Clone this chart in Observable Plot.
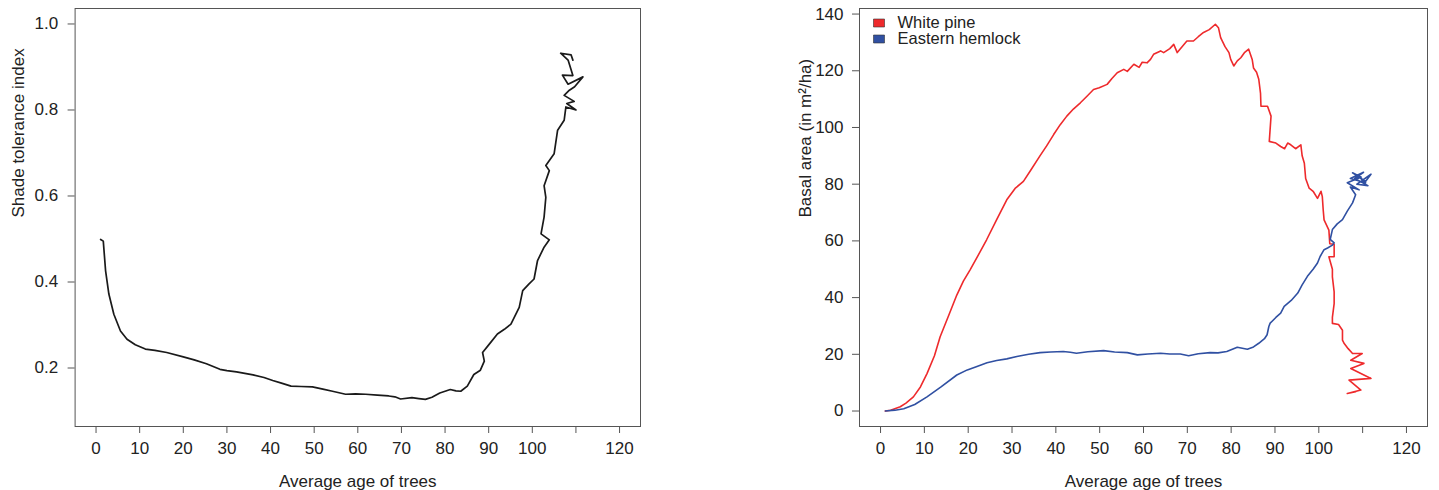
<!DOCTYPE html>
<html>
<head>
<meta charset="utf-8">
<script src="https://cdn.jsdelivr.net/npm/d3@7"></script>
<script src="https://cdn.jsdelivr.net/npm/@observablehq/plot@0.6"></script>
<style>
  html, body { margin: 0; padding: 0; background: #fff; }
  #wrap { display: flex; width: 1439px; height: 490px; }
  svg { display: block; }
</style>
</head>
<body>
<div id="wrap"></div>
<script>
// ---------- data ----------
const xTicks = [0, 10, 20, 30, 40, 50, 60, 70, 80, 90, 100, 110, 120];
const xTickLabels = ["0", "10", "20", "30", "40", "50", "60", "70", "80", "90", "100", "", "120"];
const shadeTicks = [0.2, 0.4, 0.6, 0.8, 1.0];
const basalTicks = [0, 20, 40, 60, 80, 100, 120, 140];

const xTitle = "Average age of trees";
const shadeTitle = "Shade tolerance index";
const basalTitle = "Basal area (in m²/ha)";

// Left panel: shade tolerance index vs average age
const shadeAge = [1.05,1.66,2.19,2.94,4.08,5.6,7.1,9.0,11.3,13.5,16.2,20.0,22.5,25.3,28.4,30,32.2,36.0,38.5,40.5,42.5,44.7,47,49.6,52,54.2,57.2,59.5,61.8,64.5,67.1,68.5,69.8,72.4,74,75.5,77,78.8,81.2,82.5,83.6,85.1,86.6,88.1,89,88.6,90.1,92,93.6,95.1,97,97.8,99.2,100.4,101.2,102.7,103.9,102,102.7,103.1,102.7,103.9,103.1,105,105.8,107.3,107.7,110,107.9,109.6,107.3,108.5,109.7,111.6,108.2,106.9,109.3,108.2,106.5,108.9,109.3];
const shadeIndex = [0.499,0.495,0.426,0.372,0.325,0.286,0.267,0.254,0.244,0.241,0.236,0.226,0.219,0.210,0.197,0.194,0.191,0.184,0.178,0.171,0.165,0.158,0.157,0.156,0.151,0.146,0.139,0.14,0.139,0.137,0.135,0.133,0.128,0.131,0.129,0.127,0.132,0.142,0.150,0.147,0.146,0.158,0.185,0.195,0.216,0.236,0.255,0.279,0.29,0.302,0.341,0.380,0.395,0.407,0.450,0.481,0.498,0.512,0.551,0.597,0.624,0.659,0.671,0.698,0.753,0.776,0.807,0.80,0.815,0.82,0.834,0.846,0.854,0.877,0.86,0.881,0.88,0.916,0.932,0.928,0.916];

// Right panel: basal area by species
const pineAge = [1.1,2.3,4.5,5.8,7.5,9.1,10.6,12.3,13.6,15.5,17.4,18.9,20.4,22.3,24.2,26.5,28.8,30.7,32.6,34.3,36.3,37.9,39.5,41,42.5,44,45.6,47.1,48.6,49.9,51.7,52.8,54,55.5,56.3,57.8,59,59.7,60.8,61.6,62.3,63.9,64.6,66,66.9,67.7,68.8,69.9,71.4,72.5,73.7,75,76.4,77.1,77.6,78.6,79.5,79.9,80.6,81.4,82.2,83.1,84,84.8,85.1,85.8,86.3,86.7,86.8,88.3,89.1,88.7,90.2,91.3,92.2,92.9,93.6,94.7,95.9,96.2,96.7,97,97.8,98.7,99.7,100.5,100.8,101,101.2,102.3,102.5,103.5,103.5,102.3,103.1,103.1,103.5,103.5,103.1,103.1,104.5,105.4,105.4,105.8,106.7,107.7,109.9,107.3,110.3,107.3,111.9,106.9,109.6,106.5,108.4];
const pineBA = [0,0.3,1.5,2.8,5.0,8.5,13.2,19.5,26.2,33.5,40.9,45.8,49.7,55,60.4,67.5,74.5,78.5,81,85,89.8,93.5,97.5,101,104,106.5,108.7,111,113.4,114,115.2,117.3,119.3,120.5,119.8,122.3,121.2,123,122.8,124,125.8,127,126.4,127.8,129.3,126.4,128.5,130.5,130.5,132,133.5,134.5,136.4,135.2,131.7,128.5,126.4,124,121.7,123.5,124.6,126.5,127.6,124,121,119.5,117,112,107.5,107.5,104,95.1,94.5,93.3,92.5,94.5,93.9,92.5,93.9,90,87.4,82,78.6,77.5,75,77.5,75.6,71,67.4,63.8,59,58.8,54.4,54.4,50,47.3,42,37.9,33,30.9,30.5,28.5,25,23.8,22,20.3,20.3,17.9,16.8,15,11.5,10.9,7.4,6.2,6.8];

const hemlockAge = [1.1,3.3,5.3,7.8,10.6,13.8,17.4,19.8,22,24.3,26.5,28.8,31.1,33.8,36.4,38.8,41.7,43.3,44.7,47.3,50.9,53.4,56.3,58.6,61,63.9,66,68.4,70.3,72.5,75.2,77,79,81.4,83.7,85.1,86.3,87.6,88.2,88.6,88.9,90.2,91.3,92.1,93.7,95.2,96.2,97.4,98.7,99.7,100.3,101.2,102,103.1,103.5,102.6,103.1,104.2,105.4,106.5,107.7,108.4,107.2,109.2,106.5,109.7,107.7,110.7,111.9,108.7,111.2,108.2,110.2,107.2,110.7,109.2];
const hemlockBA = [0,0.3,0.8,2.3,5,8.5,12.7,14.5,15.7,17,17.8,18.4,19.2,20,20.6,20.8,21,20.7,20.4,20.9,21.3,20.8,20.6,19.8,20.1,20.4,20.1,20.1,19.5,20.2,20.6,20.5,21,22.5,21.8,22.6,23.9,25.5,26.9,29.8,31,33,34.5,36.9,39,41.6,44.5,47.5,50,52.2,54.5,56.9,57.5,58.5,59.3,60.5,64,66,67.5,70.5,73.4,76.3,79,78,80.5,82.5,84,81,83.5,80,79.5,82,84.2,82,80.5,82.5];

const seriesNames = ["White pine", "Eastern hemlock"];
const seriesColors = ["#ee2a2c", "#3050a2"];

// ---------- helpers ----------
const zip = (xs, ys) => xs.map((x, i) => ({x, y: ys[i]}));
const font = "'Liberation Sans', Arial, Helvetica, sans-serif";
const fs = 17;
const xDomain = [-4.8, 124.8];
const frameColor = "#555";
const textColor = "#222";

function xAxisMarks() {
  return [
    Plot.axisX({ticks: xTicks, tickSize: 7, tickPadding: 8, stroke: frameColor, fontSize: fs,
      tickFormat: (d) => xTickLabels[xTicks.indexOf(d)], label: null, fill: textColor}),
    Plot.text([xTitle], {frameAnchor: "bottom", dy: 55, lineAnchor: "middle", fill: textColor, fontSize: fs})
  ];
}

// ---------- left panel ----------
const left = Plot.plot({
  width: 720, height: 490,
  marginLeft: 74.6, marginRight: 80, marginTop: 8, marginBottom: 64,
  style: {fontFamily: font, fontSize: fs + "px", color: textColor, background: "#fff"},
  x: {domain: xDomain},
  y: {domain: [0.064, 1.036]},
  marks: [
    Plot.frame({stroke: frameColor, strokeWidth: 1}),
    ...xAxisMarks(),
    Plot.axisY({ticks: shadeTicks, tickSize: 7, tickPadding: 10, stroke: frameColor, fontSize: fs,
      tickFormat: d3.format(".1f"), label: null, fill: textColor}),
    Plot.text([shadeTitle], {frameAnchor: "left", dx: -57, rotate: -90, fill: textColor, fontSize: fs}),
    Plot.line(zip(shadeAge, shadeIndex), {x: "x", y: "y", stroke: "#1a1a1a", strokeWidth: 1.7})
  ]
});

// ---------- right panel ----------
const legendBox = {draw(context) { context.rect(-5.5, -4, 11, 8); }};
const right = Plot.plot({
  width: 719, height: 490,
  marginLeft: 139, marginRight: 12, marginTop: 8, marginBottom: 64,
  style: {fontFamily: font, fontSize: fs + "px", color: textColor, background: "#fff"},
  x: {domain: xDomain},
  y: {domain: [-5.46, 141.96]},
  marks: [
    Plot.frame({stroke: frameColor, strokeWidth: 1}),
    ...xAxisMarks(),
    Plot.axisY({ticks: basalTicks, tickSize: 7, tickPadding: 9, stroke: frameColor, fontSize: fs,
      label: null, fill: textColor}),
    Plot.text([basalTitle], {frameAnchor: "left", dx: -54, rotate: -90, fill: textColor, fontSize: fs}),
    Plot.line(zip(pineAge, pineBA), {x: "x", y: "y", stroke: seriesColors[0], strokeWidth: 1.6}),
    Plot.line(zip(hemlockAge, hemlockBA), {x: "x", y: "y", stroke: seriesColors[1], strokeWidth: 1.6}),
    ...seriesNames.flatMap((name, i) => [
      Plot.dot([name], {frameAnchor: "top-left", dx: 19.5, dy: 14.5 + 16 * i, symbol: legendBox,
        fill: seriesColors[i], stroke: "#333", strokeWidth: 0.6}),
      Plot.text([name], {frameAnchor: "top-left", dx: 38, dy: 14.5 + 16 * i, textAnchor: "start",
        lineAnchor: "middle", fill: textColor, fontSize: 16.5})
    ])
  ]
});

document.getElementById("wrap").append(left, right);
</script>
</body>
</html>
